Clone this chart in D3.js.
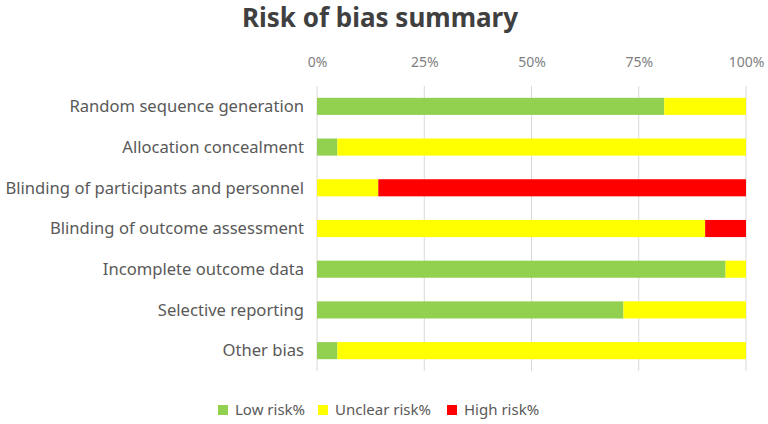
<!DOCTYPE html>
<html>
<head>
<meta charset="utf-8">
<script src="https://cdn.jsdelivr.net/npm/d3@7"></script>
<style>
  body { margin: 0; background: #fff; }
  text { font-family: "Noto Sans", "Open Sans", sans-serif; }
</style>
</head>
<body>
<script>
// Risk of bias summary, stacked 100% bars
var domains = ["Random sequence generation", "Allocation concealment",
  "Blinding of participants and personnel", "Blinding of outcome assessment",
  "Incomplete outcome data", "Selective reporting", "Other bias"];
var lowRisk = [80.95, 4.76, 0, 0, 95.24, 71.43, 4.76];
var unclearRisk = [19.05, 95.24, 14.29, 90.48, 4.76, 28.57, 95.24];
var highRisk = [0, 0, 85.71, 9.52, 0, 0, 0];
var seriesNames = ["Low risk%", "Unclear risk%", "High risk%"];
var seriesColors = ["#92D050", "#FFFF00", "#FF0000"];
var tickValues = [0, 25, 50, 75, 100];

var w = 768, h = 424;
var margin = {left: 317, right: 22, top: 86, bottom: 53};

var svg = d3.select("body").append("svg")
  .attr("width", w)
  .attr("height", h);

var xScale = d3.scaleLinear()
  .domain([0, 100])
  .range([margin.left, w - margin.right]);

var yScale = d3.scaleBand()
  .domain(domains)
  .range([margin.top, h - margin.bottom])
  .paddingInner(0.58)
  .paddingOuter(0.29);

// build rows for the stack
var rows = domains.map(function(d, i) {
  return {domain: d, "Low risk%": lowRisk[i], "Unclear risk%": unclearRisk[i], "High risk%": highRisk[i]};
});
var stacked = d3.stack().keys(seriesNames)(rows);

// gridlines
svg.append("g")
  .selectAll("line")
  .data(tickValues)
  .enter()
  .append("line")
  .attr("x1", function(d) { return xScale(d); })
  .attr("x2", function(d) { return xScale(d); })
  .attr("y1", margin.top)
  .attr("y2", h - margin.bottom)
  .attr("stroke", "#D9D9D9")
  .attr("stroke-width", 1);

// top axis labels
var xAxis = svg.append("g")
  .attr("transform", "translate(0," + (margin.top - 16) + ")")
  .call(d3.axisTop(xScale).tickValues(tickValues).tickSize(0).tickFormat(function(d) { return d + "%"; }));
xAxis.select(".domain").remove();
xAxis.selectAll("text")
  .attr("fill", "#7F7F7F")
  .style("font-size", "14px");

// bars
svg.append("g")
  .selectAll("g")
  .data(stacked)
  .enter()
  .append("g")
  .attr("fill", function(d, i) { return seriesColors[i]; })
  .selectAll("rect")
  .data(function(d) { return d; })
  .enter()
  .append("rect")
  .attr("x", function(d) { return xScale(d[0]); })
  .attr("y", function(d) { return yScale(d.data.domain); })
  .attr("width", function(d) { return xScale(d[1]) - xScale(d[0]); })
  .attr("height", yScale.bandwidth());

// category labels
svg.append("g")
  .selectAll("text")
  .data(domains)
  .enter()
  .append("text")
  .attr("x", margin.left - 13)
  .attr("y", function(d) { return yScale(d) + yScale.bandwidth() / 2; })
  .attr("dy", "0.35em")
  .attr("text-anchor", "end")
  .attr("fill", "#595959")
  .style("font-size", "16.6px")
  .text(function(d) { return d; });

// title
svg.append("text")
  .attr("x", 380)
  .attr("y", 27)
  .attr("text-anchor", "middle")
  .attr("fill", "#404040")
  .style("font-size", "26px")
  .style("font-weight", "bold")
  .text("Risk of bias summary");

// legend
var legendX = [218, 318, 447];
var legend = svg.selectAll(".legend")
  .data(seriesNames)
  .enter()
  .append("g")
  .attr("class", "legend")
  .attr("transform", function(d, i) { return "translate(" + legendX[i] + ",405)"; });

legend.append("rect")
  .attr("width", 10)
  .attr("height", 10)
  .attr("fill", function(d, i) { return seriesColors[i]; });

legend.append("text")
  .attr("x", 17)
  .attr("y", 5)
  .attr("dy", "0.35em")
  .attr("fill", "#595959")
  .style("font-size", "15px")
  .text(function(d) { return d; });
</script>
</body>
</html>
